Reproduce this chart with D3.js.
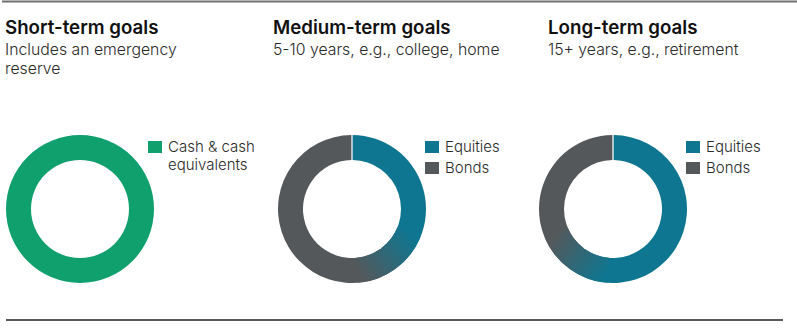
<!DOCTYPE html>
<html>
<head>
<meta charset="utf-8">
<script src="https://cdn.jsdelivr.net/npm/d3@7"></script>
<style>
  body { margin: 0; background: #fff; }
  svg { display: block; font-family: Inter, "Noto Sans", sans-serif; }
</style>
</head>
<body>
<svg id="chart" width="797" height="331"></svg>
<script>
// Panel texts
const titles = ["Short-term goals", "Medium-term goals", "Long-term goals"];
const subtitles = [
    ["Includes an emergency", "reserve"],
    ["5-10 years, e.g., college, home"],
    ["15+ years, e.g., retirement"]
];

// Series per panel
const shortLabels = ["Cash & cash equivalents"];
const shortValues = [100];
const mediumLabels = ["Equities", "Bonds"];
const mediumValues = [40, 60];
const longLabels = ["Equities", "Bonds"];
const longValues = [60, 40];

const colors = {
    "Cash & cash equivalents": "#0fa06e",
    "Equities": "#0e7690",
    "Bonds": "#55585b"
};

const panels = [
    { labels: shortLabels, values: shortValues, legendLines: [["Cash & cash", "equivalents"]] },
    { labels: mediumLabels, values: mediumValues, legendLines: [["Equities"], ["Bonds"]] },
    { labels: longLabels, values: longValues, legendLines: [["Equities"], ["Bonds"]] }
];

const svg = d3.select("#chart");
const defs = svg.append("defs");

// panel x positions are not evenly spread in the original
const textX = [5, 273, 548];
const centerX = [80, 352, 613];
const legendX = [148, 425, 686];
const cy = 209, outerR = 74, innerR = 49;

// rules
svg.append("line")
    .attr("x1", 2).attr("x2", 797).attr("y1", 1.5).attr("y2", 1.5)
    .attr("stroke", "#6e6e6e").attr("stroke-width", 2);
svg.append("line")
    .attr("x1", 6).attr("x2", 783).attr("y1", 320).attr("y2", 320)
    .attr("stroke", "#222").attr("stroke-width", 1.5);

const arc = d3.arc().innerRadius(innerR).outerRadius(outerR);
const midR = (innerR + outerR) / 2;
const blend = 0.55;

panels.forEach((p, i) => {
    const g = svg.append("g");

    g.append("text")
        .attr("x", textX[i]).attr("y", 34)
        .attr("font-size", 18.7).attr("font-weight", 600)
        .attr("fill", "#111")
        .text(titles[i]);

    subtitles[i].forEach((s, j) => {
        g.append("text")
            .attr("x", textX[i]).attr("y", 55 + j * 19.3)
            .attr("font-size", 15.8).attr("font-weight", 300)
            .attr("fill", "#2a2a2a")
            .text(s);
    });

    const data = p.labels.map((l, k) => ({ label: l, value: p.values[k] }));
    const pie = d3.pie().sort(null).value(d => d.value)
        .padAngle(data.length > 1 ? 0.014 : 0);
    const arcs = pie(data);

    const donut = g.append("g").attr("transform", `translate(${centerX[i]},${cy})`);
    donut.selectAll("path.slice")
        .data(arcs)
        .join("path")
        .attr("class", "slice")
        .attr("d", arc)
        .attr("fill", d => colors[d.data.label]);

    // soft blend where equities meet bonds
    if (arcs.length > 1) {
        const a = arcs[0].endAngle;
        const pt = ang => [midR * Math.sin(ang), -midR * Math.cos(ang)];
        const [x1, y1] = pt(a - blend);
        const [x2, y2] = pt(a + blend);
        const id = `blend${i}`;
        const grad = defs.append("linearGradient")
            .attr("id", id)
            .attr("gradientUnits", "userSpaceOnUse")
            .attr("x1", x1).attr("y1", y1).attr("x2", x2).attr("y2", y2);
        grad.append("stop").attr("offset", 0).attr("stop-color", colors[arcs[0].data.label]);
        grad.append("stop").attr("offset", 1).attr("stop-color", colors[arcs[1].data.label]);
        donut.append("path")
            .attr("d", arc({ startAngle: a - blend, endAngle: a + blend }))
            .attr("fill", `url(#${id})`);
    }

    // legend
    const leg = g.append("g").attr("transform", `translate(${legendX[i]},141)`);
    p.labels.forEach((l, k) => {
        leg.append("rect")
            .attr("x", 0).attr("y", k * 21)
            .attr("width", 14).attr("height", 12)
            .attr("fill", colors[l]);
        p.legendLines[k].forEach((line, m) => {
            leg.append("text")
                .attr("x", 20).attr("y", 11 + k * 21 + m * 18)
                .attr("font-size", 15).attr("font-weight", 300)
                .attr("fill", "#2a2a2a")
                .text(line);
        });
    });
});
</script>
</body>
</html>
